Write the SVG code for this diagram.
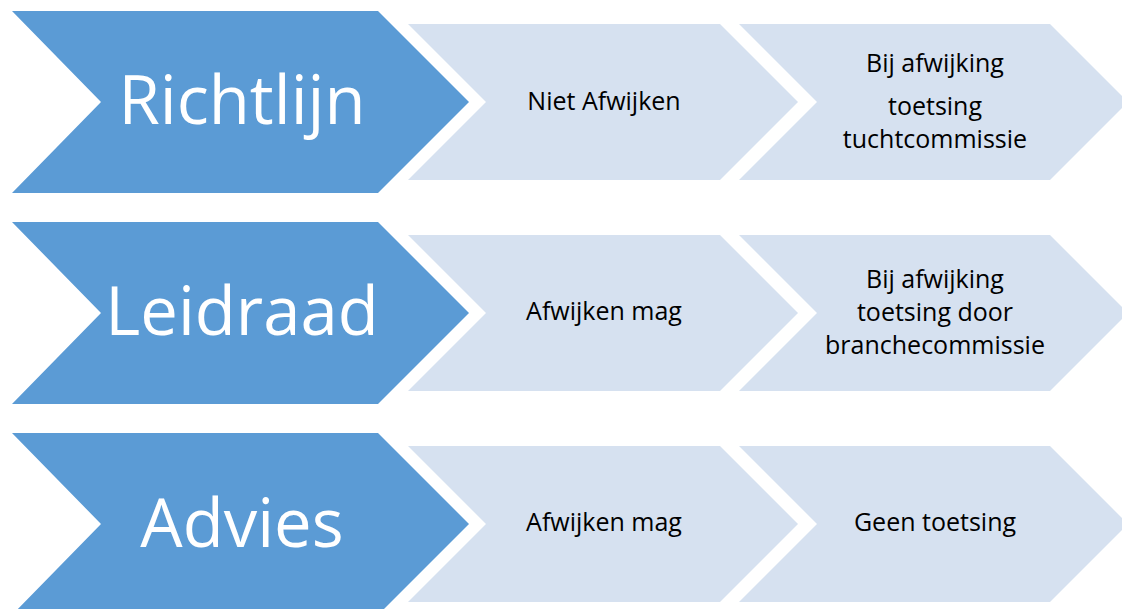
<svg xmlns="http://www.w3.org/2000/svg" width="1122" height="609" viewBox="0 0 1122 609">
<style>
.dark{fill:#5B9BD5}
.light{fill:#D6E1F0}
.big{font-family:"Open Sans","Liberation Sans",sans-serif;font-size:67px;fill:#FFFFFF;text-anchor:middle}
.sm{font-family:"Open Sans","Liberation Sans",sans-serif;font-size:25px;fill:#000000;text-anchor:middle}
</style>
<rect width="1122" height="609" fill="#FFFFFF"/>
<g id="row1">
<g id="richtlijn"><polygon class="dark" points="12,11 378,11 469,102 378,193 12,193 101,102"/><text class="big" x="242" y="124">Richtlijn</text></g>
<g id="niet-afwijken"><polygon class="light" points="408,24 720,24 798,102 720,180 408,180 486,102"/><text class="sm" x="604" y="110">Niet Afwijken</text></g>
<g id="toetsing-tucht"><polygon class="light" points="739,24 1050,24 1128,102 1050,180 739,180 817,102"/><text class="sm" x="935" y="72">Bij afwijking</text><text class="sm" x="935" y="115">toetsing</text><text class="sm" x="935" y="148">tuchtcommissie</text></g>
</g>
<g id="row2">
<g id="leidraad"><polygon class="dark" points="12,222 378,222 469,313 378,404 12,404 101,313"/><text class="big" x="242" y="335">Leidraad</text></g>
<g id="afwijken-mag-1"><polygon class="light" points="408,235 720,235 798,313 720,391 408,391 486,313"/><text class="sm" x="604" y="320">Afwijken mag</text></g>
<g id="toetsing-branche"><polygon class="light" points="739,235 1050,235 1128,313 1050,391 739,391 817,313"/><text class="sm" x="935" y="288">Bij afwijking</text><text class="sm" x="935" y="321">toetsing door</text><text class="sm" x="935" y="354">branchecommissie</text></g>
</g>
<g id="row3">
<g id="advies"><polygon class="dark" points="12,433 378,433 469,524 378,615 12,615 101,524"/><text class="big" x="242" y="547">Advies</text></g>
<g id="afwijken-mag-2"><polygon class="light" points="408,446 720,446 798,524 720,602 408,602 486,524"/><text class="sm" x="604" y="531">Afwijken mag</text></g>
<g id="geen-toetsing"><polygon class="light" points="739,446 1050,446 1128,524 1050,602 739,602 817,524"/><text class="sm" x="935" y="531">Geen toetsing</text></g>
</g>
<g id="connectors"/>
</svg>
